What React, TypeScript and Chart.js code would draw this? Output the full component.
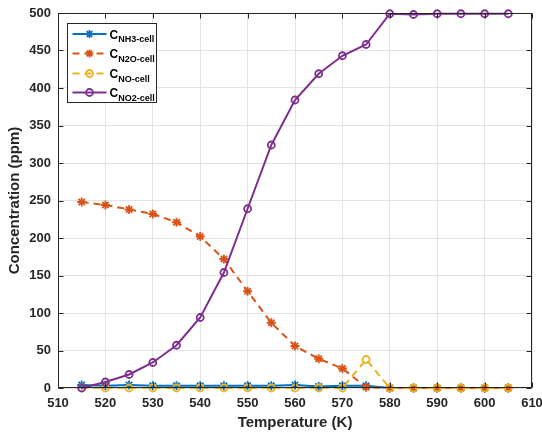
import React, { useEffect, useRef } from 'react';
import { Chart, registerables } from 'chart.js';

Chart.register(...registerables);

// ---------- data ----------
const temperatures = [515, 520, 525, 530, 535, 540, 545, 550, 555, 560, 565, 570, 575, 580, 585, 590, 595, 600, 605];
const nh3Cell = [4, 3, 4, 3, 3, 3, 3, 3, 3, 4, 2, 3, 3, 0, 0, 0, 0, 0, 0];
const n2oCell = [248, 244, 238, 232, 221, 202, 172, 129, 87, 56, 39, 26, 1, 0, 0, 0, 0, 0, 0];
const noCell = [0, 0, 0, 0, 0, 0, 0, 0, 0, 0, 0, 0, 38, 0, 0, 0, 0, 0, 0];
const no2Cell = [0, 8, 18, 34, 57, 94, 154, 239, 324, 384, 419, 443, 458, 499, 498, 499, 499, 499, 499];

const xTickValues = [510, 520, 530, 540, 550, 560, 570, 580, 590, 600, 610];
const yTickValues = [0, 50, 100, 150, 200, 250, 300, 350, 400, 450, 500];

const legendMain = 'C';
const legendSubs = ['NH3-cell', 'N2O-cell', 'NO-cell', 'NO2-cell'];

const xTitle = 'Temperature (K)';
const yTitle = 'Concentration (ppm)';

// ---------- styles ----------
const COLORS = ['#0072BD', '#D95319', '#EDB120', '#7E2F8E'];
const DASHES: number[][] = [[], [7, 5], [7, 5], []];
const MARKERS = ['star', 'star', 'circle', 'circle'];
const FONT = '"Liberation Sans", Arial, Helvetica, sans-serif';
const AXIS_COLOR = '#262626';

function drawMarker(ctx: CanvasRenderingContext2D, style: string, x: number, y: number, r: number) {
  ctx.beginPath();
  if (style === 'star') {
    ctx.moveTo(x, y - r); ctx.lineTo(x, y + r);
    ctx.moveTo(x - r, y); ctx.lineTo(x + r, y);
    const d = r * Math.SQRT1_2;
    ctx.moveTo(x - d, y - d); ctx.lineTo(x + d, y + d);
    ctx.moveTo(x - d, y + d); ctx.lineTo(x + d, y - d);
  } else {
    ctx.arc(x, y, r, 0, Math.PI * 2);
  }
  ctx.stroke();
}

const framePlugin = {
  id: 'matlabFrame',
  afterDatasetsDraw(chart: any) {
    const { ctx, chartArea: a, scales } = chart;
    const L = Math.round(a.left) + 0.5;
    const R = Math.round(a.right) - 0.5;
    const T = Math.round(a.top) + 0.5;
    const B = Math.round(a.bottom) - 0.5;
    ctx.save();
    ctx.setLineDash([]);
    ctx.strokeStyle = AXIS_COLOR;
    ctx.lineWidth = 1;
    ctx.strokeRect(L, T, R - L, B - T);
    const tl = 5;
    ctx.beginPath();
    xTickValues.forEach((v) => {
      const px = Math.round(scales.x.getPixelForValue(v)) + 0.5;
      ctx.moveTo(px, B); ctx.lineTo(px, B - tl);
      ctx.moveTo(px, T); ctx.lineTo(px, T + tl);
    });
    yTickValues.forEach((v) => {
      const py = Math.round(scales.y.getPixelForValue(v)) + 0.5;
      ctx.moveTo(L, py); ctx.lineTo(L + tl, py);
      ctx.moveTo(R, py); ctx.lineTo(R - tl, py);
    });
    ctx.stroke();

    // legend
    const bx = Math.round(a.left + 9) + 0.5;
    const by = Math.round(a.top + 10) + 0.5;
    const bw = 89;
    const bh = 79;
    ctx.fillStyle = '#ffffff';
    ctx.fillRect(bx, by, bw, bh);
    ctx.strokeStyle = AXIS_COLOR;
    ctx.strokeRect(bx, by, bw, bh);
    const rowYs = [10.5, 30, 50, 69];
    legendSubs.forEach((sub, i) => {
      const y = by + rowYs[i];
      ctx.strokeStyle = COLORS[i];
      ctx.lineWidth = 2;
      ctx.setLineDash(DASHES[i]);
      ctx.beginPath();
      ctx.moveTo(bx + 5, y);
      ctx.lineTo(bx + 39, y);
      ctx.stroke();
      ctx.setLineDash([]);
      ctx.lineWidth = 1.8;
      drawMarker(ctx, MARKERS[i], bx + 22, y, MARKERS[i] === 'star' ? 4 : 3.5);
      ctx.fillStyle = '#000000';
      ctx.textBaseline = 'alphabetic';
      ctx.textAlign = 'left';
      ctx.font = `bold 12px ${FONT}`;
      const tx = bx + 42;
      ctx.fillText(legendMain, tx, y + 4.5);
      const cw = ctx.measureText(legendMain).width;
      ctx.font = `bold 9px ${FONT}`;
      ctx.fillText(sub, tx + cw, y + 8);
    });
    ctx.restore();
  },
};

export default function App() {
  const canvasRef = useRef<HTMLCanvasElement | null>(null);

  useEffect(() => {
    const prevMargin = document.body.style.margin;
    document.body.style.margin = '0';
    const canvas = canvasRef.current;
    if (!canvas) return;
    const seriesList = [nh3Cell, n2oCell, noCell, no2Cell];
    const datasets = seriesList.map((series, i) => ({
      label: `${legendMain}_${legendSubs[i]}`,
      data: temperatures.map((t, j) => ({ x: t, y: series[j] })),
      borderColor: COLORS[i],
      backgroundColor: 'rgba(0,0,0,0)',
      borderWidth: 2,
      borderDash: DASHES[i],
      pointStyle: MARKERS[i],
      pointRadius: MARKERS[i] === 'star' ? 4.5 : 3.5,
      pointBorderWidth: 1.8,
      pointBorderColor: COLORS[i],
      pointBackgroundColor: 'rgba(0,0,0,0)',
      tension: 0,
      clip: false as any,
      order: 4 - i,
    }));

    const chart = new Chart(canvas, {
      type: 'line',
      data: { datasets },
      options: {
        animation: false,
        responsive: false,
        devicePixelRatio: 1,
        layout: { padding: { top: 13, right: 10, left: 0, bottom: 0 } },
        plugins: {
          legend: { display: false },
          tooltip: { enabled: false },
        },
        scales: {
          x: {
            type: 'linear',
            min: 510,
            max: 610,
            afterBuildTicks: (scale: any) => {
              scale.ticks = xTickValues.map((v) => ({ value: v }));
            },
            afterFit: (scale: any) => {
              scale.height = 46;
              scale.paddingLeft = 0;
              scale.paddingRight = 0;
            },
            grid: { color: '#e3e3e3', lineWidth: 1, drawTicks: false },
            border: { display: false },
            ticks: {
              padding: 8,
              color: AXIS_COLOR,
              font: { family: FONT, size: 13, weight: 'bold' },
              maxRotation: 0,
              autoSkip: false,
            },
            title: {
              display: true,
              text: xTitle,
              color: AXIS_COLOR,
              font: { family: FONT, size: 15, weight: 'bold' },
              padding: { top: 0, bottom: 2 },
            },
          },
          y: {
            type: 'linear',
            min: 0,
            max: 500,
            afterBuildTicks: (scale: any) => {
              scale.ticks = yTickValues.map((v) => ({ value: v }));
            },
            afterFit: (scale: any) => {
              scale.width = 58;
              scale.paddingTop = 0;
              scale.paddingBottom = 0;
            },
            grid: { color: '#e3e3e3', lineWidth: 1, drawTicks: false },
            border: { display: false },
            ticks: {
              padding: 7,
              color: AXIS_COLOR,
              font: { family: FONT, size: 13, weight: 'bold' },
              autoSkip: false,
            },
            title: {
              display: true,
              text: yTitle,
              color: AXIS_COLOR,
              font: { family: FONT, size: 15, weight: 'bold' },
              padding: { top: 6, bottom: 0 },
            },
          },
        },
      } as any,
      plugins: [framePlugin],
    });

    return () => {
      chart.destroy();
      document.body.style.margin = prevMargin;
    };
  }, []);

  return (
    <div style={{ position: 'absolute', left: 0, top: 0, width: 542, height: 434, background: '#ffffff' }}>
      <canvas ref={canvasRef} width={542} height={434} style={{ display: 'block', width: 542, height: 434 }} />
    </div>
  );
}
